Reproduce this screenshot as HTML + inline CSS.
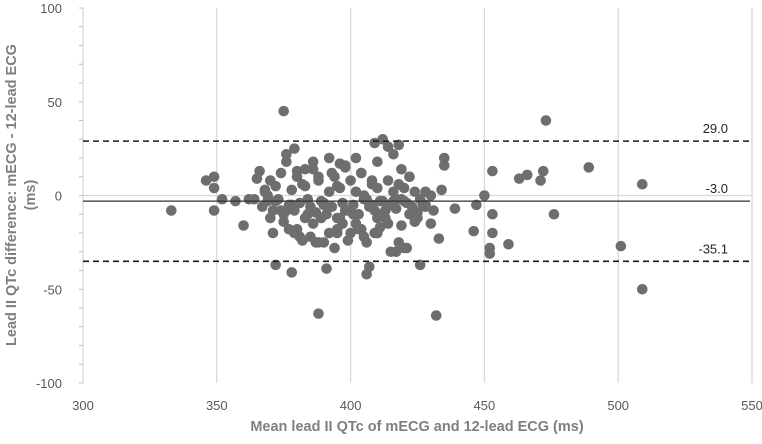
<!DOCTYPE html>
<html><head><meta charset="utf-8"><style>
body{margin:0;background:#fff;}
svg{font-family:"Liberation Sans",sans-serif;}
</style></head><body>
<svg id="chart" width="762" height="439"></svg>
<script>
const xTicks=[300,350,400,450,500,550];
const yTicks=[100,50,0,-50,-100];
const limitValues=[29.0,-3.0,-35.1];
const limitLabels=["29.0","-3.0","-35.1"];
const meanVals=[333,375,473,509,501,509,388,432,489,476,472,466,463,471,453,453,453,452,452,459,446,450,447,435,435,434,439,431,430,433,426,406,407,391,378,372,360,357,352,349,346,349,349,365,
368,370,372,374,376,378,380,382,384,386,388,390,392,394,396,398,400,402,404,406,408,410,412,414,416,418,420,422,424,426,428,
367,369,371,373,375,377,379,381,383,385,387,389,391,393,395,397,399,401,403,405,407,409,411,413,415,417,419,421,423,425,
366,368,370,374,378,380,384,386,390,392,396,398,402,404,408,410,412,416,418,422,424,428,
369,371,375,377,381,383,387,389,393,395,399,401,405,409,411,413,415,419,421,425,427,
372,376,379,382,385,388,394,397,400,403,406,410,414,417,420,
362,364,380,386,392,398,404,410,416,422,428,430,
376,379,383,388,396,402,409,414,419,
385,395,405,412,418,408,410,395,390,420,417];
const diffVals=[-8,45,40,6,-27,-50,-63,-64,15,-10,13,11,9,8,13,-10,-20,-28,-31,-26,-19,0,-5,20,16,3,-7,-8,-15,-23,-37,-42,-38,-39,-41,-37,-16,-3,-2,4,8,10,-8,9,
2,8,5,12,18,3,10,6,-2,14,8,-4,2,10,4,16,8,2,12,-2,6,4,-3,8,2,6,4,10,2,-2,-5,
-6,-3,-8,-2,-10,-5,-8,-4,-12,-6,-9,-3,-10,-6,-12,-4,-8,-5,-10,-2,-6,-8,-3,-12,-5,-7,-2,-4,-6,-9,
13,3,-12,-8,-5,-18,-10,-15,-5,-20,-12,-8,-15,-18,-5,-20,-10,-3,-25,-10,-14,-6,
0,-20,-14,-18,-22,5,-25,-12,12,-18,-24,-10,-22,-20,-17,-8,-30,-16,-28,-12,-5,
-3,-8,-20,-24,-22,-25,-28,-15,-20,-18,-25,-20,-15,-2,-3,
-2,-2,13,18,20,15,12,18,22,10,2,0,
22,25,14,10,17,20,28,26,14,
-8,5,0,30,27,8,-12,-20,-25,-28,-30];
const NS="http://www.w3.org/2000/svg";
const svg=document.getElementById('chart');
const L=83,R=752,T=8,B=383;
const sx=v=>L+(v-300)/250*(R-L);
const sy=v=>T+(100-v)/200*(B-T);
function mk(tag,a,parent){const e=document.createElementNS(NS,tag);for(const k in a)e.setAttribute(k,a[k]);(parent||svg).appendChild(e);return e;}
xTicks.forEach((t,i)=>{
 const g=mk('line',{x1:sx(t),x2:sx(t),y1:T,y2:B,stroke:'#d9d9d9','stroke-width':1.3});
 
 
 const tx=mk('text',{x:sx(t),y:410,'text-anchor':'middle','font-size':13,fill:'#595959'});
 tx.textContent=t;
 
 
});
mk('line',{x1:L,x2:R,y1:sy(0),y2:sy(0),stroke:'#d9d9d9','stroke-width':1.3});
for(let v=-100;v<=100;v+=10){mk('line',{x1:L-4,x2:L,y1:sy(v),y2:sy(v),stroke:'#bfbfbf'});}
yTicks.forEach(t=>{
 const tx=mk('text',{x:L-21,y:sy(t)+5,'text-anchor':'end','font-size':13,fill:'#595959'});
 tx.textContent=t;
 
 
});
meanVals.forEach((m,i)=>{
 const c=mk('circle',{cx:sx(m),cy:sy(diffVals[i]),r:5.3,fill:'#6e6e6e'});
 
 
});
limitValues.forEach((v,i)=>{
 const ln=mk('line',{x1:L,x2:R-2,y1:sy(v),y2:sy(v),stroke:i==1?'#303030':'#1a1a1a','stroke-width':i==1?1.3:1.6,'stroke-dasharray':i==1?'':'6,4'});
 
 
 const tx=mk('text',{x:728,y:sy(v)-8,'text-anchor':'end','font-size':13,fill:'#262626'});
 tx.textContent=limitLabels[i];
 
 
});
const xt=mk('text',{x:417,y:431,'text-anchor':'middle','font-size':14.5,'font-weight':'bold',fill:'#7f7f7f'});
xt.textContent='Mean lead II QTc of mECG and 12-lead ECG (ms)';


const yt=mk('text',{transform:'translate(16,195) rotate(-90)','text-anchor':'middle','font-size':14.5,'font-weight':'bold',fill:'#7f7f7f'});
const t1=mk('tspan',{x:0,dy:0},yt);t1.textContent='Lead II QTc difference: mECG - 12-lead ECG';
const t2=mk('tspan',{x:0,dy:19},yt);t2.textContent='(ms)';


</script>
</body></html>
